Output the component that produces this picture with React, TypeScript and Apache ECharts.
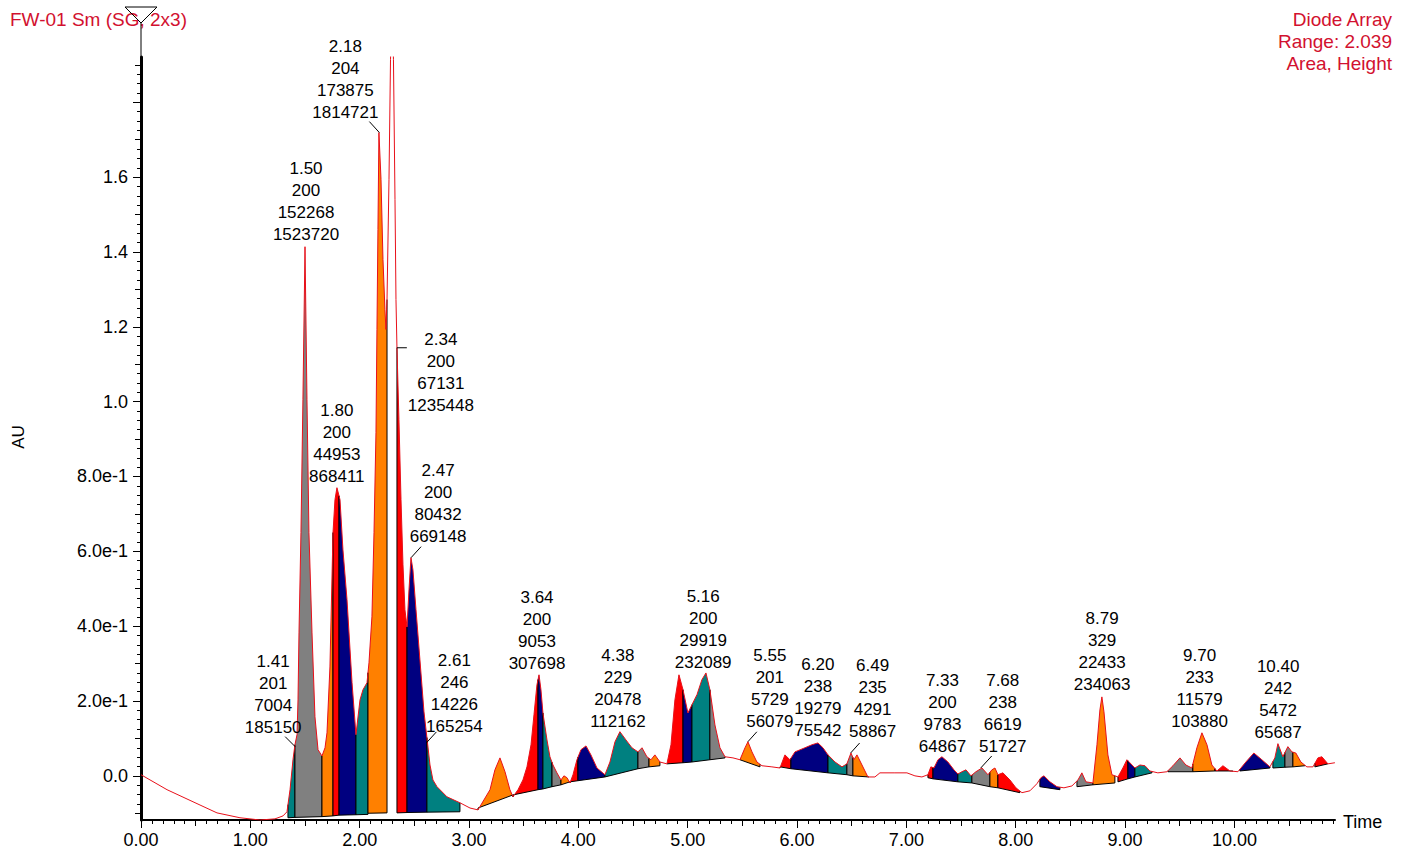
import React, { useEffect, useRef } from 'react';
import * as echarts from 'echarts';

// ---------------- DATA ----------------
// Chromatogram trace (time in minutes, absorbance in AU)
const traceTime = [
  0, 0.238, 0.540, 0.695, 0.905, 1.088, 1.225, 1.299, 1.335, 1.363, 1.390, 1.408, 1.427, 1.436, 1.445, 1.463, 1.481, 1.500,
  1.518, 1.536, 1.564, 1.591, 1.619, 1.655, 1.683, 1.701, 1.728, 1.756, 1.774, 1.792, 1.820, 1.847, 1.884, 1.930, 1.966,
  2.003, 2.030, 2.067, 2.085, 2.112, 2.131, 2.149, 2.158, 2.167, 2.176, 2.195, 2.213, 2.231, 2.240, 2.250, 2.268, 2.282,
  2.295, 2.309, 2.323, 2.332, 2.341, 2.359, 2.378, 2.396, 2.414, 2.433, 2.451, 2.469, 2.487, 2.515, 2.551, 2.588, 2.615,
  2.643, 2.670, 2.707, 2.798, 2.917, 3.009, 3.082, 3.192, 3.237, 3.283, 3.329, 3.374, 3.402, 3.448, 3.493, 3.530, 3.567,
  3.594, 3.621, 3.640, 3.658, 3.676, 3.713, 3.740, 3.768, 3.804, 3.841, 3.868, 3.896, 3.923, 3.951, 3.987, 4.024, 4.070,
  4.115, 4.170, 4.243, 4.289, 4.335, 4.380, 4.435, 4.490, 4.545, 4.582, 4.627, 4.664, 4.700, 4.746, 4.810, 4.847, 4.883,
  4.920, 4.957, 5.002, 5.039, 5.085, 5.130, 5.167, 5.203, 5.249, 5.295, 5.341, 5.414, 5.478, 5.524, 5.551, 5.588, 5.633,
  5.679, 5.770, 5.844, 5.889, 5.935, 5.981, 6.072, 6.136, 6.191, 6.237, 6.283, 6.347, 6.411, 6.456, 6.493, 6.520, 6.548,
  6.594, 6.648, 6.712, 6.758, 6.895, 7.005, 7.078, 7.142, 7.197, 7.224, 7.252, 7.289, 7.325, 7.380, 7.435, 7.471, 7.508,
  7.545, 7.590, 7.636, 7.691, 7.746, 7.782, 7.810, 7.837, 7.883, 7.947, 8.002, 8.057, 8.130, 8.194, 8.230, 8.258, 8.313,
  8.377, 8.441, 8.514, 8.569, 8.605, 8.642, 8.706, 8.743, 8.770, 8.788, 8.807, 8.843, 8.880, 8.935, 8.980, 9.017, 9.044,
  9.090, 9.136, 9.182, 9.227, 9.300, 9.383, 9.438, 9.502, 9.556, 9.611, 9.657, 9.703, 9.749, 9.794, 9.840, 9.895, 9.959,
  10.032, 10.105, 10.178, 10.251, 10.325, 10.370, 10.398, 10.443, 10.489, 10.526, 10.562, 10.608, 10.663, 10.718, 10.764,
  10.800, 10.855, 10.919,
];
const traceAU = [
  0.003, -0.037, -0.078, -0.099, -0.112, -0.118, -0.115, -0.107, -0.096, -0.037, 0.043, 0.083, 0.110, 0.203, 0.382, 0.650, 1.005, 1.414,
  1.005, 0.650, 0.382, 0.158, 0.070, 0.053, 0.075, 0.115, 0.291, 0.650, 0.738, 0.770, 0.738, 0.604, 0.471, 0.249, 0.110,
  0.203, 0.230, 0.249, 0.302, 0.425, 0.650, 0.917, 1.193, 1.460, 1.719, 1.594, 1.380, 1.246, 1.193, 1.273, 1.594, 1.914,
  2.050, 1.914, 1.540, 1.273, 1.144, 0.952, 0.738, 0.564, 0.444, 0.398, 0.497, 0.583, 0.551, 0.444, 0.310, 0.171, 0.102,
  0.029, -0.011, -0.029, -0.056, -0.072, -0.086, -0.091, -0.037, 0.016, 0.048, 0.011, -0.037, -0.056, -0.037, -0.011, 0.024, 0.083,
  0.163, 0.243, 0.270, 0.230, 0.168, 0.096, 0.051, 0.029, 0.008, -0.011, 0.000, -0.005, -0.019, 0.003, 0.043, 0.070, 0.080,
  0.056, 0.021, 0.003, 0.037, 0.091, 0.118, 0.096, 0.075, 0.064, 0.075, 0.051, 0.043, 0.056, 0.037, 0.032, 0.083, 0.203,
  0.270, 0.230, 0.168, 0.190, 0.217, 0.257, 0.275, 0.230, 0.136, 0.075, 0.051, 0.048, 0.043, 0.075, 0.091, 0.064, 0.037,
  0.027, 0.024, 0.021, 0.056, 0.043, 0.064, 0.075, 0.083, 0.088, 0.075, 0.056, 0.037, 0.024, 0.032, 0.061, 0.043, 0.056,
  0.029, -0.003, -0.003, 0.008, 0.008, 0.008, 0.000, -0.003, 0.003, 0.024, 0.021, 0.043, 0.051, 0.037, 0.016, 0.005, 0.011,
  0.016, 0.000, 0.011, 0.021, 0.003, 0.016, 0.021, 0.003, 0.008, -0.011, -0.032, -0.045, -0.040, -0.021, -0.005, 0.000, -0.016,
  -0.029, -0.032, -0.027, -0.011, 0.008, -0.016, -0.019, 0.083, 0.176, 0.211, 0.171, 0.056, 0.003, -0.003, 0.021, 0.043, 0.035,
  0.021, 0.029, 0.027, 0.013, 0.008, 0.011, 0.027, 0.048, 0.029, 0.021, 0.075, 0.115, 0.083, 0.029, 0.013, 0.027, 0.013,
  0.011, 0.037, 0.061, 0.043, 0.024, 0.048, 0.086, 0.051, 0.078, 0.064, 0.061, 0.037, 0.024, 0.024, 0.048,
  0.051, 0.032, 0.035,
];

// Integrated peak segments: start/end time and baseline values at both ends
const segStart = [1.344, 1.408, 1.655, 1.756, 1.811, 1.966, 2.076, 2.341, 2.433, 2.615, 3.082, 3.402, 3.631, 3.676, 3.759, 3.841, 3.923,
  3.996, 4.243, 4.545, 4.646, 4.810, 4.957, 5.039, 5.203, 5.478, 5.844, 5.944, 6.283, 6.456, 6.511, 7.197, 7.243, 7.471, 7.599,
  7.764, 7.837, 8.221, 8.560, 8.706, 8.935, 9.026, 9.090, 9.392, 9.620, 9.822, 10.050, 10.352, 10.462, 10.535, 10.736];
const segEnd = [1.408, 1.655, 1.756, 1.811, 1.966, 2.076, 2.250, 2.433, 2.615, 2.917, 3.402, 3.631, 3.676, 3.759, 3.841, 3.923, 3.996,
  4.243, 4.545, 4.646, 4.746, 4.957, 5.039, 5.203, 5.341, 5.661, 5.944, 6.283, 6.456, 6.511, 6.657, 7.243, 7.471, 7.599, 7.764,
  7.837, 8.038, 8.404, 8.706, 8.907, 9.026, 9.090, 9.246, 9.620, 9.822, 9.986, 10.325, 10.462, 10.535, 10.645, 10.855];
const baseStart = [-0.112, -0.111, -0.109, -0.107, -0.105, -0.104, -0.100, -0.099, -0.098, -0.097, -0.086, -0.051, -0.037, -0.035,
  -0.029, -0.024, -0.016, -0.013, -0.003, 0.019, 0.024, 0.032, 0.035, 0.037, 0.043, 0.043, 0.024, 0.019, 0.008, 0.003, 0.000,
  -0.005, -0.008, -0.016, -0.019, -0.029, -0.032, -0.029, -0.029, -0.024, -0.016, -0.008, -0.003, 0.011, 0.011, 0.013, 0.013,
  0.021, 0.023, 0.024, 0.024];
const baseEnd = [-0.111, -0.109, -0.107, -0.105, -0.104, -0.103, -0.099, -0.098, -0.097, -0.096, -0.051, -0.037, -0.035, -0.029,
  -0.024, -0.016, -0.013, -0.003, 0.019, 0.024, 0.027, 0.035, 0.037, 0.043, 0.048, 0.024, 0.019, 0.008, 0.003, 0.000, -0.003,
  -0.008, -0.016, -0.019, -0.029, -0.032, -0.045, -0.037, -0.024, -0.019, -0.008, -0.003, 0.008, 0.011, 0.013, 0.013, 0.021,
  0.023, 0.024, 0.027, 0.032];

// Labelled peaks: retention time, wavelength, height, area, and apex absorbance
const peakRT = ['1.41', '1.50', '1.80', '2.18', '2.34', '2.47', '2.61', '3.64', '4.38', '5.16', '5.55', '6.20', '6.49', '7.33', '7.68', '8.79', '9.70', '10.40'];
const peakWL = [201, 200, 200, 204, 200, 200, 246, 200, 229, 200, 201, 238, 235, 200, 238, 329, 233, 242];
const peakHeight = [7004, 152268, 44953, 173875, 67131, 80432, 14226, 9053, 20478, 29919, 5729, 19279, 4291, 9783, 6619, 22433, 11579, 5472];
const peakArea = [185150, 1523720, 868411, 1814721, 1235448, 669148, 165254, 307698, 112162, 232089, 56079, 75542, 58867, 64867, 51727, 234063, 103880, 65687];
const peakAU = [0.078, 1.414, 0.770, 1.719, 1.144, 0.583, 0.088, 0.270, 0.118, 0.275, 0.091, 0.088, 0.061, 0.051, 0.021, 0.211, 0.115, 0.086];

// Axis tick labels
const xTickValues = [0, 1, 2, 3, 4, 5, 6, 7, 8, 9, 10];
const xTickLabels = ['0.00', '1.00', '2.00', '3.00', '4.00', '5.00', '6.00', '7.00', '8.00', '9.00', '10.00'];
const yTickValues = [0, 0.2, 0.4, 0.6, 0.8, 1.0, 1.2, 1.4, 1.6];
const yTickLabels = ['0.0', '2.0e-1', '4.0e-1', '6.0e-1', '8.0e-1', '1.0', '1.2', '1.4', '1.6'];

const Y_MIN = -0.118;
const Y_MAX = 1.921;
const X_MIN = 0;
const X_MAX = 10.92;

// ---------------- STYLE / LAYOUT ----------------
const FONT = '"Liberation Sans", Arial, Helvetica, sans-serif';
const RED_TEXT = '#d2112f';
const TRACE_COLOR = '#e8101a';
const SEG_COLORS: Record<string, string> = { R: '#ff0000', O: '#ff8000', N: '#000080', T: '#008080', G: '#808080' };
const segColorKeys = ('TGORNTORNT' + 'ORNTGORNTG' + 'ORNTGORNTG' + 'ORNTGORNGO' + 'RNTGORNTGO' + 'R').split('');

// label offsets (px) relative to the peak anchor: centre x offset, offset of last line centre
const labelDX = [-22, 1, -1, -34, 44, 27, 28, -2, -2, -2, 22, -1, 22, 0, 22, 0, -2, 0];
const labelDY = [-19, -12, -11, -20, 58, -21, -16, -11, -10, -10, -20, -12, -22, -10, -21, -12, -11, -11];
// leader line end offsets (0,0 = none)
const leaderDX = [-10, 0, 0, -10, 10, 10, 10, 0, 0, 0, 9, 0, 9, 0, 11, 0, 0, 0];
const leaderDY = [-10, 0, 0, -11, 0, -11, -11, 0, 0, 0, -10, 0, -10, 0, -12, 0, 0, 0];

function traceAt(t: number): number {
  for (let i = 0; i < traceTime.length - 1; i++) {
    if (t >= traceTime[i] && t <= traceTime[i + 1]) {
      const f = (t - traceTime[i]) / (traceTime[i + 1] - traceTime[i]);
      return traceAU[i] + f * (traceAU[i + 1] - traceAU[i]);
    }
  }
  return traceAU[traceAU.length - 1];
}

function buildTicks() {
  const yMajor: number[] = [], yMid: number[] = [], yMinor: number[] = [];
  for (let k = -4; k <= 76; k++) {
    const v = Math.round(k * 25) / 1000;
    if (k % 8 === 0) yMajor.push(v);
    else if (k % 4 === 0) yMid.push(v);
    else yMinor.push(v);
  }
  const xHalf: number[] = [], xMinor: number[] = [];
  for (let k = 0; k <= 109; k++) {
    const v = k / 10;
    if (k % 10 === 0) continue;
    if (k % 5 === 0) xHalf.push(v);
    else xMinor.push(v);
  }
  return { yMajor, yMid, yMinor, xHalf, xMinor };
}

export default function App() {
  const ref = useRef<HTMLDivElement>(null);

  useEffect(() => {
    if (!ref.current) return;
    const chart = echarts.init(ref.current, null, { renderer: 'svg' });
    const ticks = buildTicks();

    const segData = segStart.map((s, i) => [s, segEnd[i], baseStart[i], baseEnd[i]]);
    const peakData = peakRT.map((r, i) => [parseFloat(r), peakAU[i]]);

    const baseX = {
      type: 'value', min: X_MIN, max: X_MAX, position: 'bottom', offset: 0,
      splitLine: { show: false }, axisLabel: { show: false },
      axisLine: { show: false, onZero: false },
    };
    const baseY = {
      type: 'value', min: Y_MIN, max: Y_MAX, position: 'left', offset: 0,
      splitLine: { show: false }, axisLabel: { show: false },
      axisLine: { show: false, onZero: false },
    };

    const option: any = {
      animation: false,
      backgroundColor: '#ffffff',
      grid: { left: 141, right: 68, top: 57, bottom: 35, containLabel: false, outerBoundsMode: 'none' },
      xAxis: [
        {
          ...baseX,
          axisLine: { show: true, onZero: false, lineStyle: { color: '#000', width: 2 } },
          axisTick: { show: true, length: 8, customValues: xTickValues, lineStyle: { color: '#000', width: 1 } },
          axisLabel: {
            show: true, customValues: xTickValues, margin: 11, color: '#000', fontSize: 18, fontFamily: FONT,
            formatter: (v: number) => xTickLabels[Math.round(v)] ?? '',
          },
        },
        { ...baseX, axisTick: { show: true, length: 6, customValues: ticks.xHalf, lineStyle: { color: '#000', width: 1 } } },
        { ...baseX, axisTick: { show: true, length: 4, customValues: ticks.xMinor, lineStyle: { color: '#000', width: 1 } } },
      ],
      yAxis: [
        {
          ...baseY,
          axisLine: { show: true, onZero: false, lineStyle: { color: '#000', width: 3 } },
          axisTick: { show: true, length: 8, customValues: ticks.yMajor, lineStyle: { color: '#000', width: 1 } },
          axisLabel: {
            show: true, customValues: yTickValues, margin: 13, color: '#000', fontSize: 18, fontFamily: FONT,
            formatter: (v: number) => {
              const idx = yTickValues.findIndex((x) => Math.abs(x - v) < 1e-6);
              return idx >= 0 ? yTickLabels[idx] : '';
            },
          },
        },
        { ...baseY, axisTick: { show: true, length: 6, customValues: ticks.yMid, lineStyle: { color: '#000', width: 1 } } },
        { ...baseY, axisTick: { show: true, length: 4, customValues: ticks.yMinor, lineStyle: { color: '#000', width: 1 } } },
      ],
      series: [
        {
          type: 'custom',
          name: 'peaks',
          xAxisIndex: 0,
          yAxisIndex: 0,
          z: 2,
          data: segData,
          encode: { x: [0, 1], y: [2, 3] },
          renderItem: (params: any, api: any) => {
            const i = params.dataIndex;
            const t0 = api.value(0), t1 = api.value(1), b0 = api.value(2), b1 = api.value(3);
            const top: number[][] = [api.coord([t0, traceAt(t0)])];
            for (let k = 0; k < traceTime.length; k++) {
              if (traceTime[k] > t0 && traceTime[k] < t1) top.push(api.coord([traceTime[k], traceAU[k]]));
            }
            top.push(api.coord([t1, traceAt(t1)]));
            const pb0 = api.coord([t0, b0]);
            const pb1 = api.coord([t1, b1]);
            return {
              type: 'group',
              children: [
                { type: 'polygon', shape: { points: [pb0, ...top, pb1] }, style: { fill: SEG_COLORS[segColorKeys[i]], stroke: null } },
                {
                  type: 'polyline',
                  shape: { points: [top[0], pb0, pb1, top[top.length - 1]] },
                  style: { stroke: '#000', lineWidth: 1, fill: null },
                },
              ],
            };
          },
        },
        {
          type: 'line',
          name: 'trace',
          xAxisIndex: 0,
          yAxisIndex: 0,
          z: 5,
          data: traceTime.map((t, i) => [t, traceAU[i]]),
          symbol: 'none',
          showSymbol: false,
          clip: true,
          lineStyle: { color: TRACE_COLOR, width: 1 },
        },
        {
          type: 'custom',
          name: 'labels',
          xAxisIndex: 0,
          yAxisIndex: 0,
          z: 6,
          data: peakData,
          encode: { x: 0, y: 1 },
          renderItem: (params: any, api: any) => {
            const i = params.dataIndex;
            const p = api.coord([api.value(0), api.value(1)]);
            const children: any[] = [
              {
                type: 'text',
                x: p[0] + labelDX[i],
                y: p[1] + labelDY[i] + 11,
                style: {
                  text: [peakRT[i], String(peakWL[i]), String(peakHeight[i]), String(peakArea[i])].join('\n'),
                  fill: '#000',
                  fontSize: 17,
                  fontFamily: FONT,
                  align: 'center',
                  verticalAlign: 'bottom',
                  textAlign: 'center',
                  textVerticalAlign: 'bottom',
                  lineHeight: 22,
                },
              },
            ];
            if (leaderDX[i] !== 0 || leaderDY[i] !== 0) {
              children.push({
                type: 'line',
                shape: { x1: p[0], y1: p[1], x2: p[0] + leaderDX[i], y2: p[1] + leaderDY[i] },
                style: { stroke: '#000', lineWidth: 1 },
              });
            }
            return { type: 'group', children };
          },
        },
      ],
      graphic: [
        {
          type: 'text', x: 10, y: 19,
          style: { text: 'FW-01 Sm (SG, 2x3)', fill: RED_TEXT, fontSize: 19, fontFamily: FONT, align: 'left', verticalAlign: 'middle', textAlign: 'left', textVerticalAlign: 'middle' },
        },
        {
          type: 'text', x: 1392, y: 8,
          style: {
            text: 'Diode Array\nRange: 2.039\nArea, Height', fill: RED_TEXT, fontSize: 19, fontFamily: FONT, lineHeight: 22,
            align: 'right', verticalAlign: 'top', textAlign: 'right', textVerticalAlign: 'top',
          },
        },
        {
          type: 'polygon',
          shape: { points: [[125, 7], [157, 7], [141, 23]] },
          style: { fill: null, stroke: '#000', lineWidth: 1 },
        },
        { type: 'line', shape: { x1: 141, y1: 23, x2: 141, y2: 57 }, style: { stroke: '#000', lineWidth: 1 } },
        {
          type: 'text', x: 18, y: 437, rotation: Math.PI / 2,
          style: { text: 'AU', fill: '#000', fontSize: 17, fontFamily: FONT, align: 'center', verticalAlign: 'middle', textAlign: 'center', textVerticalAlign: 'middle' },
        },
        {
          type: 'text', x: 1343, y: 822,
          style: { text: 'Time', fill: '#000', fontSize: 18, fontFamily: FONT, align: 'left', verticalAlign: 'middle', textAlign: 'left', textVerticalAlign: 'middle' },
        },
      ],
    };

    chart.setOption(option);
    return () => chart.dispose();
  }, []);

  return (
    <div
      ref={ref}
      style={{ position: 'fixed', left: 0, top: 0, width: 1403, height: 855, background: '#ffffff' }}
    />
  );
}
